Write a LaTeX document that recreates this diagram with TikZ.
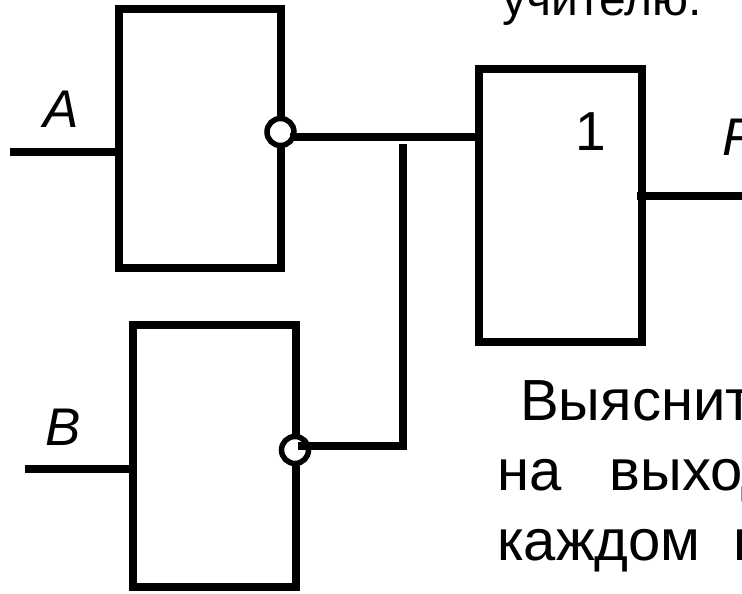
\documentclass[tikz,border=0pt]{standalone}
\usepackage{fontspec}
\setmainfont{Liberation Sans}
\tikzset{
  x=1pt,y=-1pt,
  wire/.style={line width=8pt,line cap=butt,line join=miter},
  gatebox/.style={line width=8pt},
  bubble/.style={circle,draw,fill=white,line width=5.5pt,minimum size=27pt,inner sep=0pt},
  big/.style={inner sep=0pt,anchor=base west,font=\fontsize{58}{58}\selectfont},
  lab/.style={inner sep=0pt,anchor=base west,font=\fontsize{53}{53}\selectfont\itshape}
}
\begin{document}
\begin{tikzpicture}
\useasboundingbox (0,0) rectangle (742,594);
\clip (0,0) rectangle (742,594);
\node[big] (t1) at (520,420) {Выясните};
\node[big] (t2) at (497,490) {на\ \ \ выходе};
\node[big] (t3) at (497,560) {каждом\hspace{33pt}п};
\node[big,font=\fontsize{48}{48}\selectfont] (t0) at (502,16) {учителю.};
\node[lab] (la) at (43,128) {A};
\node[lab] (lb) at (45,445) {B};
\node[lab] (lf) at (722,155) {F};
\node[big,font=\fontsize{55}{55}\selectfont] (one) at (575,150) {1};
\coordinate (ia) at (10,152);
\coordinate (ib) at (25,469);
\coordinate (oa) at (742,196);
\coordinate (ja) at (483,137);
\coordinate (jb) at (403,144);
\coordinate (kb) at (403,446);
\coordinate (mb) at (298,446);
\coordinate (ma) at (290,137);
\coordinate (fo) at (637,196);
\coordinate (ga) at (119,152);
\coordinate (gb) at (133,469);
\draw[gatebox] (119,9) rectangle (281,268);
\draw[gatebox] (479,69) rectangle (641.5,342);
\draw[gatebox] (133,325) rectangle (296,587);
\draw[wire] (ia) -- (ga);
\draw[wire] (ib) -- (gb);
\draw[wire] (fo) -- (oa);
\node[bubble] (ba) at (280.5,132) {};
\node[bubble] (bb) at (295,450) {};
\draw[wire] (ma) -- (ja);
\draw[wire] (mb) -- (kb) -- (jb);
\end{tikzpicture}
\end{document}
